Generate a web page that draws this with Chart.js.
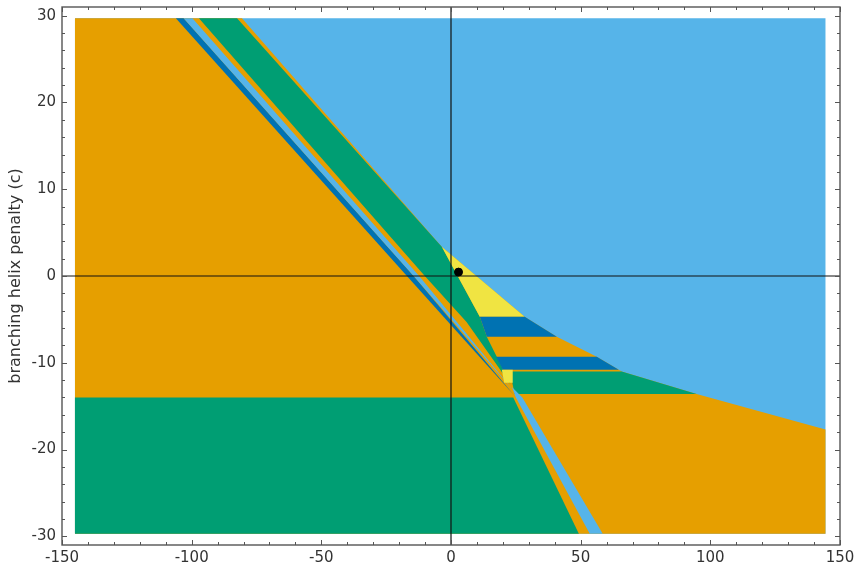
<!DOCTYPE html>
<html>
<head>
<meta charset="utf-8">
<script src="https://cdn.jsdelivr.net/npm/chart.js@4/dist/chart.umd.min.js"></script>
<style>
  html, body { margin: 0; padding: 0; background: #fff; }
  #wrap { width: 856px; height: 567px; }
</style>
</head>
<body>
<div id="wrap"><canvas id="regionChart"></canvas></div>
<script>
// axis ticks
const xMajor = [-150, -100, -50, 0, 50, 100, 150];
const xMinor = [-140, -130, -120, -110, -90, -80, -70, -60, -40, -30, -20, -10,
                10, 20, 30, 40, 60, 70, 80, 90, 110, 120, 130, 140];
const yMajor = [-30, -20, -10, 0, 10, 20, 30];
const yMinor = [-28, -26, -24, -22, -18, -16, -14, -12, -8, -6, -4, -2,
                2, 4, 6, 8, 12, 14, 16, 18, 22, 24, 26, 28];

// regions, [a, c] corners, drawn in this order (later on top)
const skyRegion = [[-145, 29.7], [144.4, 29.7], [144.4, -29.7], [-145, -29.7]];
const orangeRegion = [[-145, 29.7], [-80.6, 29.7], [-3.5, 3.33], [28.4, -4.71], [40.8, -7.0],
                      [56.2, -9.3], [64.7, -10.8], [65.8, -11.0], [94.7, -13.6], [144.4, -17.7],
                      [144.4, -29.7], [-145, -29.7]];
const greenLow = [[-145, -14], [24, -14], [49.3, -29.7], [-145, -29.7]];
const blueStripe = [[-106.1, 29.7], [-103.1, 29.7], [-14.4, 0], [24.5, -13.8], [-17, 0]];
const skyStripe = [[-103.1, 29.7], [-99.7, 29.7], [-12.3, 0], [24, -13.2], [-14.4, 0]];
const greenBand = [[-97.2, 29.7], [-82.5, 29.7], [-3.5, 3.33], [11.1, -4.71], [13.8, -7.0],
                   [23, -12.5], [6, -5.3], [-10.1, 0]];
const yellowTop = [[-3.5, 3.33], [28.4, -4.71], [11.1, -4.71]];
const blueRow1 = [[11.1, -4.71], [28.4, -4.71], [40.8, -7.0], [13.8, -7.0]];
const blueRow2 = [[17.4, -9.3], [56.2, -9.3], [64.7, -10.8], [20, -10.8]];
const greenRow = [[22.8, -11.0], [65.8, -11.0], [94.7, -13.6], [24.5, -13.6]];
const yellowSmall = [[19.6, -10.8], [23.8, -10.8], [23.8, -12.3], [20.5, -12.3]];
const skyLow = [[23.5, -12.8], [27.5, -14], [58.5, -29.7], [53.5, -29.7], [25, -14]];

const refPoint = [[2.9, 0.45]];

const ORANGE = '#E69F00', GREEN = '#009E73', SKY = '#56B4E9', BLUE = '#0072B2', YELLOW = '#F0E442';

const regions = [
  [skyRegion, SKY], [orangeRegion, ORANGE], [greenLow, GREEN], [blueStripe, BLUE],
  [skyStripe, SKY], [greenBand, GREEN], [yellowTop, YELLOW], [blueRow1, BLUE],
  [blueRow2, BLUE], [greenRow, GREEN], [yellowSmall, YELLOW], [skyLow, SKY]
];

const toPts = arr => arr.map(p => ({x: p[0], y: p[1]}));

const datasets = regions.map(([pts, col]) => ({
  data: toPts(pts),
  showLine: true,
  fill: 'shape',
  backgroundColor: col,
  borderWidth: 0,
  pointRadius: 0,
  pointHoverRadius: 0
}));
datasets.push({
  data: [{x: -150, y: 0}, {x: 150, y: 0}],
  showLine: true, borderColor: '#111', borderWidth: 1.2, pointRadius: 0, fill: false
});
datasets.push({
  data: [{x: 0, y: -31}, {x: 0, y: 31}],
  showLine: true, borderColor: '#111', borderWidth: 1.2, pointRadius: 0, fill: false
});
datasets.push({
  data: toPts(refPoint),
  showLine: false, backgroundColor: '#000', borderColor: '#000', pointRadius: 4
});
datasets.forEach((d, i) => { d.order = datasets.length - i; });

// box frame with inward ticks on all four sides
const frameTicks = {
  id: 'frameTicks',
  afterDatasetsDraw(chart) {
    const {ctx, chartArea: a, scales: {x, y}} = chart;
    ctx.save();
    ctx.strokeStyle = '#555';
    ctx.lineWidth = 1;
    ctx.beginPath();
    const xt = (list, len) => list.forEach(v => {
      const p = Math.round(x.getPixelForValue(v)) + 0.5;
      ctx.moveTo(p, a.bottom); ctx.lineTo(p, a.bottom - len);
      ctx.moveTo(p, a.top); ctx.lineTo(p, a.top + len);
    });
    const yt = (list, len) => list.forEach(v => {
      const p = Math.round(y.getPixelForValue(v)) + 0.5;
      ctx.moveTo(a.left, p); ctx.lineTo(a.left + len, p);
      ctx.moveTo(a.right, p); ctx.lineTo(a.right - len, p);
    });
    xt(xMajor, 5); xt(xMinor, 3);
    yt(yMajor, 5); yt(yMinor, 3);
    ctx.stroke();
    ctx.lineWidth = 1.4;
    ctx.strokeRect(a.left, a.top, a.right - a.left, a.bottom - a.top);
    ctx.restore();
  }
};

const ctx = document.getElementById('regionChart').getContext('2d');
const regionChart = new Chart(ctx, {
  type: 'scatter',
  data: {datasets: datasets},
  plugins: [frameTicks],
  options: {
    responsive: true,
    maintainAspectRatio: false,
    animation: false,
    layout: {autoPadding: false, padding: {top: 7, right: 16, left: 0, bottom: 0}},
    plugins: {
      legend: {display: false},
      tooltip: {enabled: false}
    },
    scales: {
      x: {
        type: 'linear', min: -150, max: 150,
        grid: {display: false, drawTicks: false},
        border: {display: false},
        afterBuildTicks: s => { s.ticks = xMajor.map(v => ({value: v})); },
        afterFit: s => { s.height = 22; s.paddingLeft = 0; s.paddingRight = 0; },
        ticks: {
          padding: 4, color: '#333', autoSkip: false, maxRotation: 0,
          font: {family: 'DejaVu Sans', size: 15}
        }
      },
      y: {
        type: 'linear', min: -31, max: 31,
        grid: {display: false, drawTicks: false},
        border: {display: false},
        afterBuildTicks: s => { s.ticks = yMajor.map(v => ({value: v})); },
        afterFit: s => { s.width = 62; s.paddingTop = 0; s.paddingBottom = 0; },
        title: {
          display: true, text: 'branching helix penalty (c)', color: '#333',
          padding: {top: 6, bottom: 0},
          font: {family: 'DejaVu Sans', size: 16}
        },
        ticks: {
          padding: 6, color: '#333', autoSkip: false,
          font: {family: 'DejaVu Sans', size: 15}
        }
      }
    }
  }
});
</script>
</body>
</html>
